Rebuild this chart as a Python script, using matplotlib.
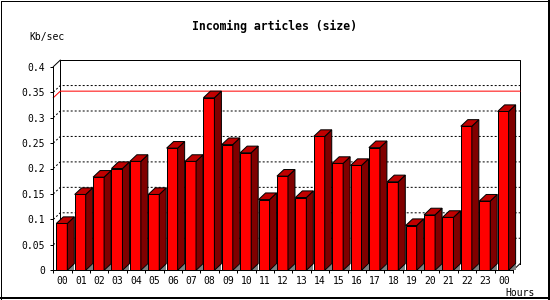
import matplotlib
matplotlib.use("Agg")
from matplotlib import pyplot as plt
from matplotlib.patches import Polygon
from matplotlib.lines import Line2D

# data
hours = ['00', '01', '02', '03', '04', '05', '06', '07', '08', '09', '10', '11',
         '12', '13', '14', '15', '16', '17', '18', '19', '20', '21', '22', '23', '00']
values = [0.092, 0.149, 0.183, 0.200, 0.214, 0.149, 0.240, 0.214, 0.339, 0.247,
          0.231, 0.139, 0.185, 0.143, 0.263, 0.210, 0.206, 0.241, 0.174, 0.088,
          0.109, 0.104, 0.283, 0.136, 0.312]
yticks = [0, 0.05, 0.1, 0.15, 0.2, 0.25, 0.3, 0.35, 0.4]
ytick_labels = ['0', '0.05', '0.1', '0.15', '0.2', '0.25', '0.3', '0.35', '0.4']
title = 'Incoming articles (size)'
ylabel = 'Kb/sec'
xlabel = 'Hours'

W, H = 550, 300
fig = plt.figure(figsize=(5.5, 3), dpi=100)
fig.patch.set_facecolor('white')

# front plot rectangle in pixels
x0, x1 = 53.3, 513.0
ytop, ybot = 66.7, 270.3
ax = fig.add_axes([x0 / W, (H - ybot) / H, (x1 - x0) / W, (ybot - ytop) / H])
n = len(values)
ymax = 0.4
ax.set_xlim(0, n)
ax.set_ylim(0, ymax)
ax.patch.set_alpha(0)

px_x = (x1 - x0) / n          # pixels per slot
px_y = (ybot - ytop) / ymax   # pixels per unit
dx = 7.0 / px_x               # 3d depth in data units
dy = 6.6 / px_y
lw = 0.72

# back plane outline
ax.plot([dx, dx, n + dx, n + dx], [dy, ymax + dy, ymax + dy, dy],
        color='black', lw=lw, clip_on=False, zorder=1)
ax.plot([0, dx], [ymax, ymax + dy], color='black', lw=lw, clip_on=False, zorder=1)
ax.plot([n, n + dx], [0, dy], color='black', lw=lw, clip_on=False, zorder=1)

# dotted grid on the back plane
for v in yticks[1:-1]:
    ax.plot([0, dx, n + dx], [v, v + dy, v + dy], color='black', lw=lw,
            linestyle=(0, (2, 2)), clip_on=False, zorder=1)

# max line
vmax = max(values)
ax.plot([0, dx, n + dx], [vmax, vmax + dy, vmax + dy], color='#ff0000', lw=lw,
        clip_on=False, zorder=1)

# 3d bars
off = 3.0 / px_x
bw = 11.0 / px_x
for i, v in enumerate(values):
    xl = i + off
    xr = xl + bw
    ax.add_patch(Polygon([(xr, 0), (xr + dx, 0), (xr + dx, dy)], closed=True,
                         facecolor='#808080', edgecolor='none', zorder=2, clip_on=False))
    ax.add_patch(Polygon([(xl, 0), (xr, 0), (xr, v), (xl, v)], closed=True,
                         facecolor='#ff0000', edgecolor='black', lw=lw, zorder=3,
                         clip_on=False))
    ax.add_patch(Polygon([(xr, 0), (xr + dx, dy), (xr + dx, v + dy), (xr, v)], closed=True,
                         facecolor='#800000', edgecolor='black', lw=lw, zorder=3,
                         clip_on=False))
    ax.add_patch(Polygon([(xl, v), (xr, v), (xr + dx, v + dy), (xl + dx, v + dy)], closed=True,
                         facecolor='#c00000', edgecolor='black', lw=lw, zorder=3,
                         clip_on=False))

# axes and ticks
for s in ['top', 'right']:
    ax.spines[s].set_visible(False)
for s in ['left', 'bottom']:
    ax.spines[s].set_linewidth(lw)
    ax.spines[s].set_zorder(4)

mono = 'DejaVu Sans Mono'
ax.set_yticks(yticks)
ax.set_yticklabels(ytick_labels, family=mono, fontsize=7)
ax.tick_params(axis='y', length=2.2, width=lw, pad=3.8, direction='out')

ax.set_xticks([i + 0.5 for i in range(n)])
ax.set_xticklabels(hours, family=mono, fontsize=7)
ax.set_xticks(range(n + 1), minor=True)
ax.tick_params(axis='x', which='major', length=0, pad=3.8)
ax.tick_params(axis='x', which='minor', length=2.2, width=lw, direction='out')

fig.text(274 / W, 1 - 26.7 / H, title, family=mono, weight='bold', fontsize=8.3,
         ha='center', va='center')
fig.text(29 / W, 1 - 36.7 / H, ylabel, family=mono, fontsize=7, ha='left', va='center')
fig.text(505 / W, 1 - 292.5 / H, xlabel, family=mono, fontsize=7, ha='left', va='center')

# image frame
fig.add_artist(Line2D([0.5 / W, 548.5 / W], [1 - 0.5 / H, 1 - 0.5 / H], color='black', lw=0.72))
fig.add_artist(Line2D([0.5 / W, 0.5 / W], [1 - 0.5 / H, 1 - 298.5 / H], color='black', lw=0.72))
fig.add_artist(Line2D([548.5 / W, 548.5 / W], [1 - 0.5 / H, 1 - 298.5 / H], color='black', lw=1.44))
fig.add_artist(Line2D([0.5 / W, 548.5 / W], [1 - 298 / H, 1 - 298 / H], color='black', lw=1.44))

fig.savefig('out.png', dpi=100)
